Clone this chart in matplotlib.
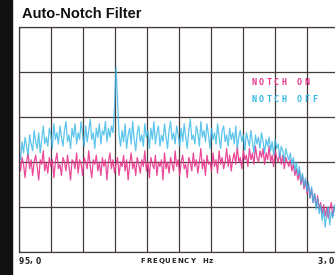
import numpy as np
import matplotlib.pyplot as plt
from matplotlib.patches import Rectangle

# trace levels in screen divisions (0 = bottom graticule line)
notch_off = [
    2.3, 2.05, 2.45, 2.2, 2.55, 2.35, 2.15, 2.6, 2.4, 2.25,
    2.7, 2.45, 2.3, 2.65, 2.2, 2.5, 2.8, 2.4, 2.55, 2.35,
    2.75, 2.6, 2.3, 2.85, 2.5, 2.65, 2.4, 2.8, 2.55, 2.35,
    2.7, 2.9, 2.45, 2.6, 2.3, 2.75, 2.55, 2.85, 2.4, 2.65,
    2.5, 2.9, 2.6, 2.35, 2.8, 2.45, 2.7, 2.95, 2.5, 2.65,
    2.3, 2.75, 2.55, 2.85, 2.4, 2.7, 2.6, 2.9, 2.45, 2.75,
    2.55, 2.8, 2.65,
    3.2, 4.1, 3.4, 2.6,
    2.35, 2.7, 2.45, 2.85, 2.3, 2.6, 2.75, 2.4, 2.9, 2.5,
    2.25, 2.65, 2.8, 2.45, 2.6, 2.35, 2.85, 2.55, 2.7, 2.3,
    2.75, 2.5, 2.9, 2.4, 2.65, 2.8, 2.35, 2.6, 2.45, 2.85,
    2.55, 2.3, 2.7, 2.9, 2.5, 2.65, 2.4, 2.8, 2.6, 2.35,
    2.75, 2.45, 2.85, 2.55, 2.3, 2.7, 2.95, 2.5, 2.6, 2.4,
    2.8, 2.65, 2.35, 2.9, 2.55, 2.7, 2.45, 2.85, 2.6, 2.3,
    2.75, 2.5, 2.65, 2.4, 2.85, 2.55, 2.3, 2.7, 2.8, 2.45,
    2.6, 2.35, 2.75, 2.5, 2.65, 2.4, 2.8, 2.3, 2.55, 2.7,
    2.45, 2.6, 2.25, 2.65, 2.5, 2.35, 2.7, 2.45, 2.2, 2.6,
    2.4, 2.55, 2.3, 2.65, 2.45, 2.2, 2.5,
    2.35, 2.55, 2.25, 2.45, 2.15, 2.5, 2.3, 2.4, 2.1, 2.35,
    2.25, 2.0, 2.3, 2.15, 2.05,
    2.2, 1.95, 2.1, 1.8, 2.0, 1.7, 1.9, 1.55, 1.75, 1.45,
    1.65, 1.35, 1.55, 1.2, 1.45, 1.1, 1.3, 0.95, 1.2, 0.85,
    1.05, 0.7, 0.95, 0.55, 0.85, 1.0, 0.6, 0.9, 0.75, 1.05,
    0.8,
]
notch_on = [
    2.05, 1.8, 2.1, 1.95, 1.65, 2.0, 2.2, 1.85, 2.05, 1.7,
    2.0, 2.15, 1.9, 1.6, 2.05, 1.95, 2.25, 1.8, 2.0, 1.75,
    2.1, 1.9, 2.05, 1.65, 2.0, 2.2, 1.85, 1.95, 1.7, 2.1,
    2.0, 1.8, 2.15, 1.9, 1.6, 2.05, 2.0, 1.85, 2.2, 1.75,
    2.05, 1.95, 1.7, 2.1, 2.0, 1.85, 2.25, 1.9, 1.65, 2.05,
    1.95, 2.15, 1.8, 2.0, 1.7, 2.1, 1.9, 2.05, 1.6, 2.0,
    2.2, 1.85, 2.05, 1.75, 1.95, 2.1, 1.7, 2.0, 1.9, 2.15,
    1.8, 2.05, 1.6, 1.95, 2.2, 1.85, 2.0, 1.7, 2.1, 1.95,
    1.75, 2.05, 1.9, 2.25, 1.8, 2.0, 1.65, 2.1, 1.95, 1.85,
    2.15, 1.7, 2.0, 1.9, 2.05, 1.6, 2.2, 1.85, 2.0, 1.75,
    2.1, 1.95, 1.8, 2.25, 1.9, 2.05, 1.7, 2.0, 2.15, 1.85,
    1.95, 1.65, 2.1, 2.0, 1.8, 2.2, 1.9, 2.05, 1.75, 2.0,
    2.3, 1.85, 2.05, 1.7, 2.15, 1.95, 2.0, 1.8, 2.2, 1.9,
    2.05, 1.75, 2.25, 1.95, 2.1, 1.85, 2.0, 2.3, 1.9, 2.15,
    1.8, 2.05, 2.2, 1.95, 2.35, 2.0, 2.1, 1.85, 2.25, 2.05,
    2.15, 1.9, 2.3, 2.05, 2.2, 1.95, 2.35, 2.1, 2.0, 2.25,
    2.1, 2.3, 1.95, 2.2, 2.05, 2.35, 2.0, 2.15, 1.9, 2.25,
    2.1, 2.0, 2.2, 1.95, 2.15, 1.85, 2.1, 2.0, 1.9,
    2.05, 1.8, 1.95, 1.7, 1.85, 1.6, 1.8, 1.5, 1.7, 1.4,
    1.6, 1.3, 1.5, 1.2, 1.4, 1.1, 1.3, 1.0, 1.25, 0.95,
    1.1, 0.85, 1.05, 0.8, 1.0, 0.75, 0.95, 1.1, 0.8, 1.0,
    0.9,
]

W, H = 335, 275
fig = plt.figure(figsize=(W / 100, H / 100), dpi=100)
fig.patches.append(Rectangle((0, 0), 12 / W, 1, transform=fig.transFigure,
                             color='#111111', zorder=0))

# axes run past the right edge, like the cropped photo
ax = fig.add_axes([19 / W, 23 / H, 320 / W, 225 / H])
ax.set_xlim(0, 10)
ax.set_ylim(0, 5)
ax.set_xticks(range(11))
ax.set_yticks(range(6))
ax.tick_params(length=0, labelbottom=False, labelleft=False)
ax.grid(True, color='#463b3b', lw=0.9)
for s in ax.spines.values():
    s.set_color('#463b3b')
    s.set_linewidth(0.9)

x_off = np.linspace(0, 9.9, len(notch_off))
x_on = np.linspace(0, 9.9, len(notch_on))
ax.plot(x_on, notch_on, color='#e8368c', lw=0.9, alpha=0.9)
ax.plot(x_off, notch_off, color='#35b6e8', lw=0.9, alpha=0.8)


def spaced(x, y, s, step, **kw):
    for i, ch in enumerate(s):
        fig.text((x + i * step) / W, 1 - y / H, ch, va='center', ha='left', **kw)


fig.text(22 / W, 1 - 14 / H, 'Auto-Notch Filter', family='Liberation Sans',
         weight='bold', fontsize=10.5, va='center', ha='left', color='#111111')
spaced(251, 83, 'NOTCH ON', 7.6, color='#e8368c', fontsize=6,
       family='DejaVu Sans Mono', weight='bold')
spaced(251, 99, 'NOTCH OFF', 7.6, color='#35b6e8', fontsize=6,
       family='DejaVu Sans Mono', weight='bold')
spaced(19, 261, '95,0', 5.4, color='#222222', fontsize=5.5, weight='bold')
spaced(140, 261, 'FREQUENCY Hz', 6.2, color='#222222', fontsize=5, weight='bold')
spaced(318, 261, '3,0', 5.4, color='#222222', fontsize=5.5, weight='bold')

fig.savefig('out.png', dpi=100)
